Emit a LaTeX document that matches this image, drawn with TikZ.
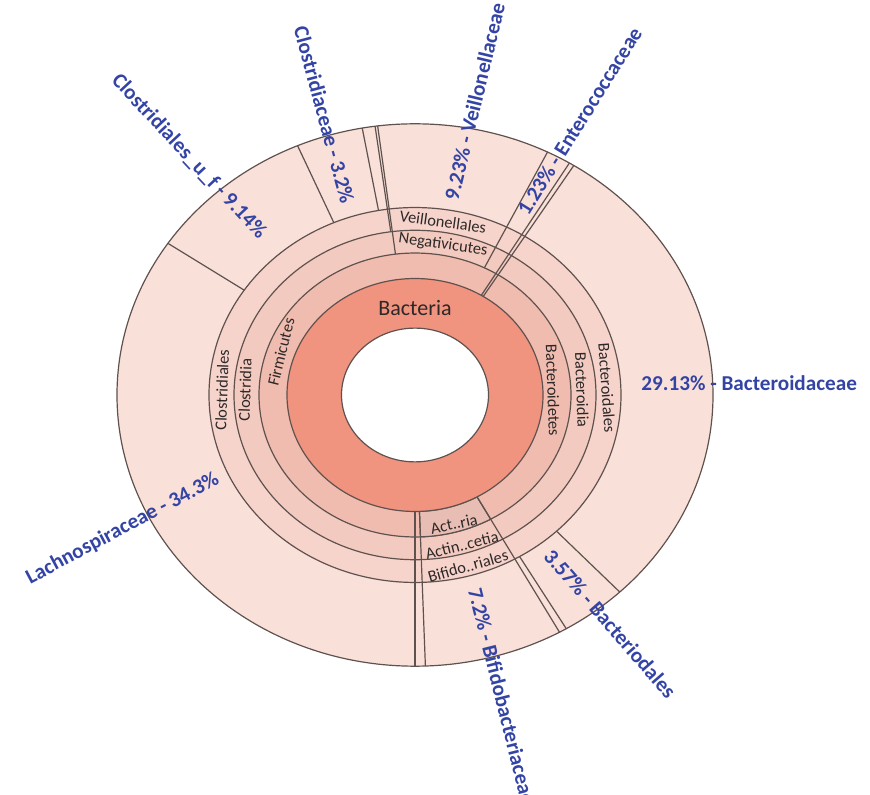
\documentclass[tikz,border=0pt]{standalone}
\usepackage{fontspec}
\setmainfont{Carlito}
\usepackage{xcolor}

\definecolor{famfill}{RGB}{249,224,217}
\definecolor{ordfill}{RGB}{246,212,204}
\definecolor{clsfill}{RGB}{243,202,192}
\definecolor{phyfill}{RGB}{240,188,176}
\definecolor{actfill}{RGB}{232,190,180}
\definecolor{domfill}{RGB}{240,147,127}
\definecolor{rimgray}{RGB}{95,82,78}
\definecolor{taxtext}{RGB}{45,40,40}
\definecolor{shareblue}{RGB}{52,68,165}

\begin{document}
\begin{tikzpicture}[
        x=0.5pt, y=0.5pt,
        rim/.style={draw=rimgray, line width=0.6pt},
        taxon/.style={font=\fontsize{8.2}{9}\selectfont, text=taxtext, inner sep=0pt},
        share/.style={font=\bfseries\fontsize{10.6}{12}\selectfont, text=shareblue, inner sep=0pt}
    ]
        \useasboundingbox (-415,-400) rectangle (455,395);

        % Rings, outermost first
        \begin{scope}[yscale=0.91]
            \filldraw[rim, fill=famfill] (0,0) circle[radius=298];
            \filldraw[rim, fill=ordfill] (0,0) circle[radius=206];
            \filldraw[rim, fill=clsfill] (0,0) circle[radius=181];
            \filldraw[rim, fill=phyfill] (0,0) circle[radius=156];
            \filldraw[rim, fill=actfill] (272:128) arc[start angle=272, end angle=299, radius=128]
                -- (299:156) arc[start angle=299, end angle=272, radius=156] -- cycle;
            \filldraw[rim, fill=domfill] (0,0) circle[radius=128];
            \filldraw[rim, fill=white] (0,0) circle[radius=73.5];

            % Phylum boundaries
            \draw[rim] (57.8:128) -- (57.8:298);
            \draw[rim] (58.8:128) -- (58.8:298);
            \draw[rim] (270:128) -- (270:298);
            \draw[rim] (272:128) -- (272:298);
            \draw[rim] (299:128) -- (299:298);

            % Class and order boundaries
            \draw[rim] (63.6:156) -- (63.6:298);
            \draw[rim] (97.2:156) -- (97.2:298);
            \draw[rim] (97.7:181) -- (97.7:298);

            % Family boundaries
            \draw[rim] (100.2:206) -- (100.2:298);
            \draw[rim] (113.2:206) -- (113.2:298);
            \draw[rim] (146:206) -- (146:298);
            \draw[rim] (-59.5:206) -- (-59.5:298);
            \draw[rim] (-46.6:206) -- (-46.6:298);
        \end{scope}

        % Inner taxa
        \node[taxon, font=\fontsize{11}{12}\selectfont] (bacteria) at (0,87) {Bacteria};
        \node[taxon, rotate=76] (firmicutes) at (-134,43) {Firmicutes};
        \node[taxon, rotate=88] (clostridia) at (-170,5) {Clostridia};
        \node[taxon, rotate=88] (clostridiales) at (-193,5) {Clostridiales};
        \node[taxon, rotate=-88] (bacteroidetes) at (138,5) {Bacteroidetes};
        \node[taxon, rotate=-88] (bacteroidia) at (167,5) {Bacteroidia};
        \node[taxon, rotate=-86] (bacteroidales) at (192,7) {Bacteroidales};
        \node[taxon, rotate=-8] (veillonellales) at (28,173) {Veillonellales};
        \node[taxon, rotate=-8] (negativicutes) at (28,150) {Negativicutes};
        \node[taxon, rotate=12] (actinobacteria) at (39,-129) {Act..ria};
        \node[taxon, rotate=14] (actinobacteriia) at (47,-150) {Actin..cetia};
        \node[taxon, rotate=16] (bifidoriales) at (53,-171) {Bifido..riales};

        % Family shares
        \node[share, anchor=west] (bacteroidaceae) at (226,12) {29.13\% - Bacteroidaceae};
        \node[share, anchor=east, rotate=28] (lachno) at (-197,-83) {Lachnospiraceae - 34.3\%};
        \node[share, anchor=east, rotate=-47] (clostuf) at (-152,159) {Clostridiales\_u\_f - 9.14\%};
        \node[share, anchor=east, rotate=-75] (clostridiaceae) at (-67,192) {Clostridiaceae - 3.2\%};
        \node[share, anchor=west, rotate=76.5] (veillonellaceae) at (36,195) {9.23\% - Veillonellaceae};
        \node[share, anchor=west, rotate=58] (enterococcaceae) at (107,182) {1.23\% - Enterococcaceae};
        \node[share, anchor=west, rotate=-49] (bacteriodales) at (133,-157) {3.57\% - Bacteriodales};
        \node[share, anchor=west, rotate=-76] (bifidobacteriaceae) at (60,-193) {7.2\% - Bifidobacteriaceae};

    \end{tikzpicture}
\end{document}
